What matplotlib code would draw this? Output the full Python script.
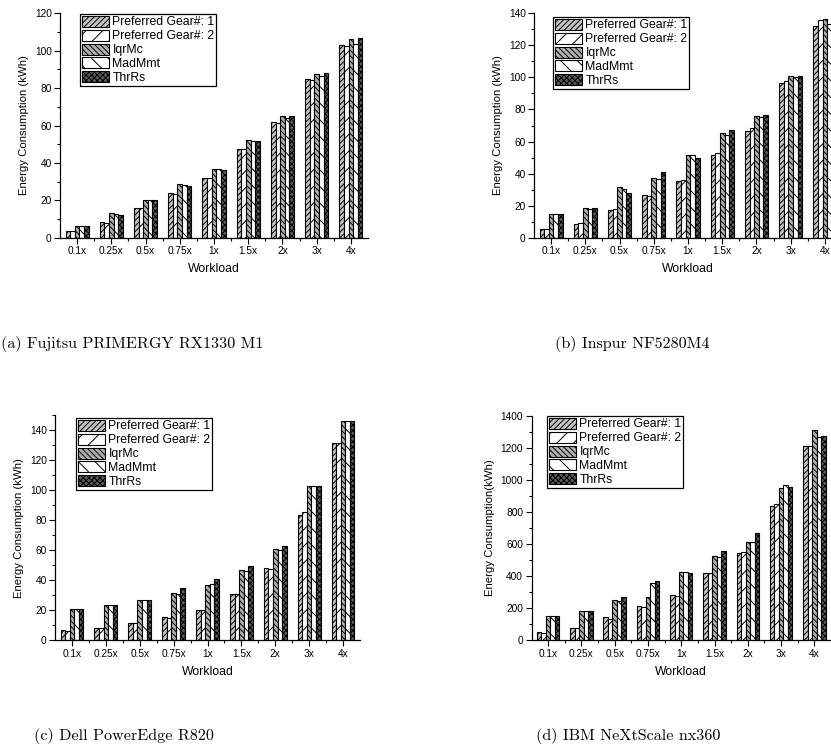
import matplotlib
matplotlib.use("Agg")
import matplotlib.pyplot as plt
from matplotlib.ticker import MultipleLocator, FixedLocator
import numpy as np

plt.rcParams['font.family'] = ['Liberation Sans', 'DejaVu Sans']
plt.rcParams['hatch.linewidth'] = 0.7
plt.rcParams['axes.linewidth'] = 0.9

workloads = ['0.1x', '0.25x', '0.5x', '0.75x', '1x', '1.5x', '2x', '3x', '4x']
series_names = ['Preferred Gear#: 1', 'Preferred Gear#: 2', 'IqrMc', 'MadMmt', 'ThrRs']

# (a) Fujitsu PRIMERGY RX1330 M1
fujitsu_pg1 = [3.6, 8.2, 15.9, 23.7, 31.7, 47.2, 61.7, 85.0, 103.2]
fujitsu_pg2 = [3.4, 8.0, 15.8, 23.6, 31.8, 47.5, 61.1, 84.5, 102.7]
fujitsu_iqr = [6.4, 13.0, 20.3, 28.5, 36.9, 52.2, 64.9, 87.3, 106.4]
fujitsu_mad = [6.3, 12.7, 20.2, 28.4, 36.6, 51.8, 63.8, 86.4, 103.4]
fujitsu_thr = [6.1, 12.3, 20.1, 27.8, 36.0, 51.5, 65.2, 88.1, 106.8]

# (b) Inspur NF5280M4
inspur_pg1 = [5.2, 8.7, 17.3, 26.4, 35.1, 51.6, 66.5, 96.7, 131.8]
inspur_pg2 = [5.2, 9.0, 18.1, 26.0, 36.0, 52.8, 68.2, 98.0, 136.0]
inspur_iqr = [14.6, 18.3, 31.4, 37.0, 51.4, 65.1, 75.9, 101.0, 136.2]
inspur_mad = [14.5, 18.2, 30.6, 36.6, 51.8, 64.2, 75.5, 100.5, 133.5]
inspur_thr = [14.5, 18.3, 27.7, 40.7, 49.5, 66.9, 76.3, 101.1, 134.0]

# (c) Dell PowerEdge R820
dell_pg1 = [6.7, 8.2, 11.3, 15.3, 20.4, 30.7, 48.2, 83.7, 131.6]
dell_pg2 = [6.5, 8.2, 11.3, 14.7, 20.3, 30.7, 47.6, 85.5, 131.6]
dell_iqr = [20.9, 23.3, 26.9, 31.3, 36.9, 46.7, 60.7, 102.7, 145.7]
dell_mad = [20.9, 23.3, 26.9, 30.9, 37.8, 46.2, 60.0, 102.7, 145.7]
dell_thr = [20.9, 23.3, 26.9, 34.9, 40.9, 49.3, 62.7, 102.7, 145.7]

# (d) IBM NeXtScale nx360
ibm_pg1 = [50, 75, 143, 214, 283, 422, 547, 835, 1209]
ibm_pg2 = [45, 75, 135, 210, 278, 418, 553, 850, 1209]
ibm_iqr = [150, 183, 249, 270, 424, 526, 615, 948, 1313]
ibm_mad = [150, 183, 245, 359, 424, 522, 611, 967, 1269]
ibm_thr = [150, 183, 270, 370, 422, 555, 667, 954, 1272]

captions = ['(a) Fujitsu PRIMERGY RX1330 M1', '(b) Inspur NF5280M4',
            '(c) Dell PowerEdge R820', '(d) IBM NeXtScale nx360']

styles = [
    dict(facecolor='#c4c4c4', hatch='//////'),
    dict(facecolor='white', hatch='//'),
    dict(facecolor='#b0b0b0', hatch='\\\\\\\\\\\\'),
    dict(facecolor='white', hatch='\\\\'),
    dict(facecolor='#5a5a5a', hatch='xxxxxx'),
]

W, H = 831, 753
fig = plt.figure(figsize=(W / 100, H / 100), dpi=100)


def px_axes(left, right, top, bottom):
    return fig.add_axes([left / W, 1 - bottom / H, (right - left) / W, (bottom - top) / H])


panels = [
    dict(box=(60, 368, 13.3, 237.7), data=[fujitsu_pg1, fujitsu_pg2, fujitsu_iqr, fujitsu_mad, fujitsu_thr],
         ylim=120, major=20, minor=10, ylabel='Energy Consumption (kWh)', leg=(80, 14)),
    dict(box=(534, 842, 13.3, 237.7), data=[inspur_pg1, inspur_pg2, inspur_iqr, inspur_mad, inspur_thr],
         ylim=140, major=20, minor=10, ylabel='Energy Consumption (kWh)', leg=(553, 17)),
    dict(box=(55, 360, 415, 640.3), data=[dell_pg1, dell_pg2, dell_iqr, dell_mad, dell_thr],
         ylim=150, major=20, minor=10, ylabel='Energy Consumption (kWh)', leg=(76, 418)),
    dict(box=(531.5, 831, 415.7, 640.3), data=[ibm_pg1, ibm_pg2, ibm_iqr, ibm_mad, ibm_thr],
         ylim=1400, major=200, minor=100, ylabel='Energy Consumption(kWh)', leg=(547, 416)),
]

x = np.arange(len(workloads))
bw = 0.135

for p in panels:
    ax = px_axes(*p['box'])
    handles = []
    for i, (vals, st) in enumerate(zip(p['data'], styles)):
        offs = (i - 2) * bw
        h = ax.bar(x + offs, vals, width=bw, edgecolor='black', linewidth=0.8,
                   label=series_names[i], **st)
        handles.append(h)
    ax.set_xlim(-0.5, 8.5)
    ax.set_ylim(0, p['ylim'])
    ax.spines['top'].set_visible(False)
    ax.spines['right'].set_visible(False)
    ax.yaxis.set_major_locator(MultipleLocator(p['major']))
    ax.yaxis.set_minor_locator(MultipleLocator(p['minor']))
    ax.set_xticks(x)
    ax.set_xticklabels(workloads)
    ax.xaxis.set_minor_locator(FixedLocator(np.arange(0.5, 8.5, 1.0)))
    ax.tick_params(axis='both', which='major', direction='out', length=4, width=0.8,
                   labelsize=7.3, pad=2)
    ax.tick_params(axis='both', which='minor', direction='out', length=2.5, width=0.8)
    ax.set_xlabel('Workload', fontsize=8.8, labelpad=5)
    ax.set_ylabel(p['ylabel'], fontsize=8.2, labelpad=4)
    lx, ly = p['leg']
    leg = ax.legend(handles=handles, loc='upper left',
                    bbox_to_anchor=(lx / W, 1 - ly / H), bbox_transform=fig.transFigure,
                    fontsize=8.8, frameon=True, fancybox=False, framealpha=1,
                    edgecolor='black', borderpad=0.15, labelspacing=0.1,
                    handlelength=2.2, handleheight=1.0, handletextpad=0.3,
                    borderaxespad=0)
    leg.get_frame().set_linewidth(0.9)

cap_pos = [(132, 344), (632, 344), (124, 736), (628, 736)]
for (cx, cy), txt in zip(cap_pos, captions):
    fig.text(cx / W, 1 - cy / H, txt, family='cmr10', fontsize=11.6,
             ha='center', va='center')

fig.savefig('out.png', dpi=100)
